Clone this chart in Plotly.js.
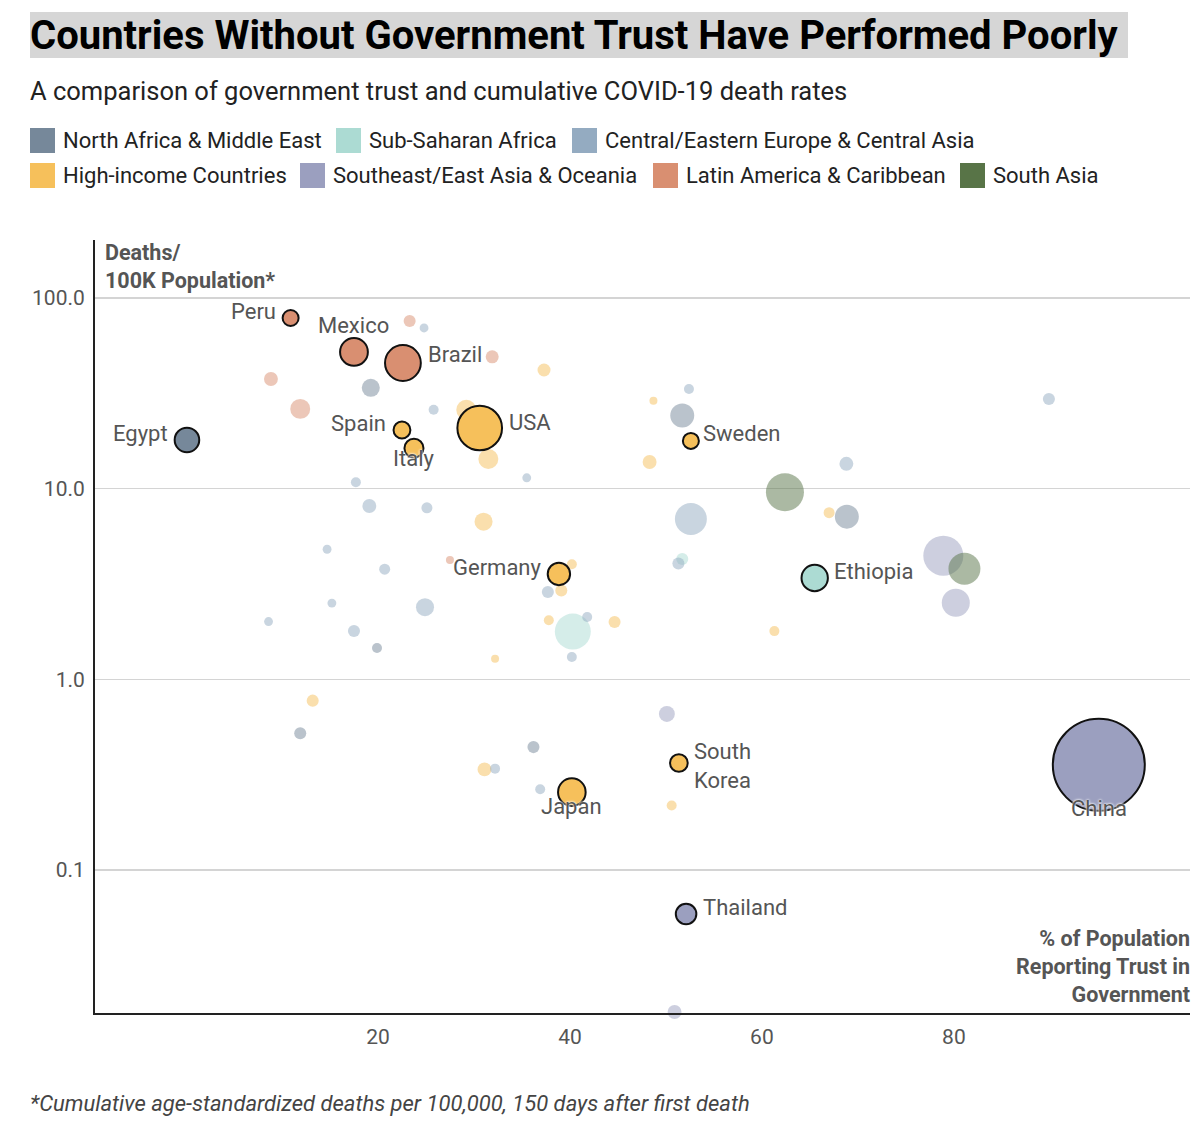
<!DOCTYPE html>
<html>
<head>
<meta charset="utf-8">
<script src="https://cdn.plot.ly/plotly-3.0.1.min.js"></script>
<style>
  html, body { margin: 0; padding: 0; background: #fff; }
  #chart { width: 1200px; height: 1123px; }
</style>
</head>
<body>
<div id="chart"></div>
<script>
// ---------------- DATA ----------------
const regionKeys = ['NAME', 'SSA', 'CEE', 'HIC', 'SEA', 'LAC', 'SA'];
const regionNames = [
  'North Africa & Middle East', 'Sub-Saharan Africa', 'Central/Eastern Europe & Central Asia',
  'High-income Countries', 'Southeast/East Asia & Oceania', 'Latin America & Caribbean', 'South Asia'
];

// Highlighted (labelled) countries
const labCountry = ['Peru', 'Mexico', 'Brazil', 'Egypt', 'Spain', 'Italy', 'USA', 'Sweden',
  'Germany', 'Ethiopia', 'South Korea', 'Japan', 'Thailand', 'China'];
const labTrust = [10.9, 17.5, 22.6, 0.1, 22.5, 23.75, 30.6, 52.6, 38.85, 65.5, 51.35, 40.2, 52.1, 95.1];
const labDeaths = [78.5, 52.1, 45.6, 18.0, 20.3, 16.3, 20.8, 17.8, 3.57, 3.40, 0.364, 0.256, 0.0588, 0.356];
const labPop = [33, 128, 212, 100, 47, 60, 330, 10, 83, 115, 52, 126, 70, 1400];
const labRegion = ['LAC', 'LAC', 'LAC', 'NAME', 'HIC', 'HIC', 'HIC', 'HIC', 'HIC', 'SSA', 'HIC', 'HIC', 'SEA', 'SEA'];

// Other (unlabelled) countries
const othTrust = [23.3, 24.8, 31.9, 37.3, 8.85, 19.25, 11.9, 25.8, 29.2, 31.5, 17.7, 35.5,
  52.4, 48.7, 51.7, 48.3, 68.8, 62.4, 67.0, 68.85, 52.6, 51.7, 51.3, 78.9, 81.1, 80.2,
  40.2, 37.7, 39.1, 37.8, 40.3, 41.8, 44.65, 40.2, 61.3, 50.1, 36.2, 36.9, 50.6, 50.9,
  19.1, 25.1, 31.0, 14.7, 27.5, 20.7, 15.2, 24.9, 8.6, 17.5, 19.9, 32.2, 13.2, 11.9, 31.1, 32.2, 89.9];
const othDeaths = [75.7, 69.6, 49.1, 41.9, 37.6, 33.8, 26.2, 25.9, 25.9, 14.3, 10.8, 11.4,
  33.3, 28.9, 24.2, 13.8, 13.5, 9.57, 7.48, 7.13, 6.93, 4.28, 4.05, 4.45, 3.80, 2.52,
  4.01, 2.87, 2.92, 2.04, 1.78, 2.12, 2.00, 1.31, 1.79, 0.658, 0.441, 0.265, 0.218, 0.018,
  8.11, 7.93, 6.71, 4.81, 4.23, 3.78, 2.51, 2.39, 2.01, 1.79, 1.46, 1.28, 0.773, 0.521, 0.337, 0.340, 29.5];
const othPop = [24, 13, 28, 28, 32, 54, 66, 16.5, 66, 66, 16.5, 13,
  16.5, 10.6, 95, 32, 32, 239, 20, 95, 169, 24, 24, 265, 169, 130,
  16.5, 24, 24, 16.5, 214, 16.5, 24, 16.5, 16.5, 42, 24, 16.5, 16.5, 32,
  32, 20, 54, 13, 10.6, 20, 13, 54, 13, 24, 16.5, 10.6, 24, 24, 32, 16.5, 24];
const othRegion = ['LAC', 'CEE', 'LAC', 'HIC', 'LAC', 'NAME', 'LAC', 'CEE', 'HIC', 'HIC', 'CEE', 'CEE',
  'CEE', 'HIC', 'NAME', 'HIC', 'CEE', 'SA', 'HIC', 'NAME', 'CEE', 'SSA', 'CEE', 'SEA', 'SA', 'SEA',
  'HIC', 'CEE', 'HIC', 'HIC', 'SSA', 'CEE', 'HIC', 'CEE', 'HIC', 'SEA', 'NAME', 'CEE', 'HIC', 'SEA',
  'CEE', 'CEE', 'HIC', 'CEE', 'LAC', 'CEE', 'CEE', 'CEE', 'CEE', 'CEE', 'NAME', 'HIC', 'HIC', 'NAME', 'HIC', 'CEE', 'CEE'];

const yTickVals = [0.1, 1, 10, 100];
const yTickText = ['0.1', '1.0', '10.0', '100.0'];
const xTickVals = [20, 40, 60, 80];
const xTickText = ['20', '40', '60', '80'];

// ---------------- STYLE ----------------
const regionColor = {
  NAME: '#76889a', SSA: '#acdbd3', CEE: '#94abc1', HIC: '#f6c05b',
  SEA: '#9b9fbf', LAC: '#d98f71', SA: '#587447'
};
const FONT = 'Roboto, "Noto Sans", Arial, sans-serif';
const L = 95, R = 10, T = 240, B = 110, W = 1200, H = 1123;
const PW = W - L - R, PH = H - T - B;
const xp = px => (px - L) / PW;
const yp = py => (H - B - py) / PH;

// label placement: [xanchor, xshift, yshift]
const labelPlace = {
  'Peru': ['right', -13, 7], 'Mexico': ['center', 0, 26], 'Brazil': ['left', 23, 8],
  'Egypt': ['right', -17, 6], 'Spain': ['right', -14, 7], 'Italy': ['center', 0, -10],
  'USA': ['left', 27, 5], 'Sweden': ['left', 10, 7], 'Germany': ['right', -15, 6],
  'Ethiopia': ['left', 17, 6], 'South Korea': ['left', 13, -3], 'Japan': ['center', 0, -14],
  'Thailand': ['left', 15, 6], 'China': ['center', 0, -44]
};

const SIZEREF = 0.331;

const traces = [
  {
    type: 'scatter', mode: 'markers', x: othTrust, y: othDeaths,
    cliponaxis: false, hoverinfo: 'skip', showlegend: false,
    marker: {
      size: othPop, sizemode: 'area', sizeref: SIZEREF, sizemin: 3,
      color: othRegion.map(r => regionColor[r]), opacity: 0.5,
      line: { width: 0 }
    }
  },
  {
    type: 'scatter', mode: 'markers', x: labTrust, y: labDeaths,
    text: labCountry, hoverinfo: 'text', showlegend: false, cliponaxis: false,
    marker: {
      size: labPop, sizemode: 'area', sizeref: SIZEREF, sizemin: 8,
      color: labRegion.map(r => regionColor[r]), opacity: 1,
      line: { width: 2, color: '#111' }
    }
  }
];

const annotations = [];
const shapes = [];

// Title background + texts
shapes.push({ type: 'rect', xref: 'paper', yref: 'paper', x0: xp(30), x1: xp(1128), y0: yp(58), y1: yp(12),
  fillcolor: '#d6d6d6', line: { width: 0 }, layer: 'below' });
annotations.push({ xref: 'paper', yref: 'paper', x: xp(28), y: yp(35), xanchor: 'left', yanchor: 'middle',
  text: 'Countries Without Government Trust Have Performed Poorly', showarrow: false,
  font: { family: FONT, size: 40, color: '#000', weight: 700 } });
annotations.push({ xref: 'paper', yref: 'paper', x: xp(28), y: yp(91), xanchor: 'left', yanchor: 'middle',
  text: 'A comparison of government trust and cumulative COVID-19 death rates', showarrow: false,
  font: { family: FONT, size: 25.5, color: '#222' } });

// Manual legend
const legendPos = [[30, 140.5], [336, 140.5], [572, 140.5], [30, 175.5], [300, 175.5], [653, 175.5], [960, 175.5]];
regionKeys.forEach((k, i) => {
  const [sx, sy] = legendPos[i];
  shapes.push({ type: 'rect', xref: 'paper', yref: 'paper', x0: xp(sx), x1: xp(sx + 25),
    y0: yp(sy + 12.5), y1: yp(sy - 12.5), fillcolor: regionColor[k], line: { width: 0 } });
  annotations.push({ xref: 'paper', yref: 'paper', x: xp(sx + 31), y: yp(sy), xanchor: 'left', yanchor: 'middle',
    text: regionNames[i], showarrow: false, font: { family: FONT, size: 22, color: '#222' } });
});

// Axis titles
annotations.push({ xref: 'paper', yref: 'paper', x: xp(103), y: yp(266), xanchor: 'left', yanchor: 'middle',
  align: 'left', text: 'Deaths/<br>100K Population*', showarrow: false,
  font: { family: FONT, size: 21.5, color: '#555', weight: 700 } });
annotations.push({ xref: 'paper', yref: 'paper', x: xp(1192), y: yp(966), xanchor: 'right', yanchor: 'middle',
  align: 'right', text: '% of Population<br>Reporting Trust in<br>Government', showarrow: false,
  font: { family: FONT, size: 21.5, color: '#555', weight: 700 } });

// Footnote
annotations.push({ xref: 'paper', yref: 'paper', x: xp(28), y: yp(1103), xanchor: 'left', yanchor: 'middle',
  text: '*Cumulative age-standardized deaths per 100,000, 150 days after first death', showarrow: false,
  font: { family: FONT, size: 22, color: '#444', style: 'italic' } });

// Country labels
labCountry.forEach((c, i) => {
  const [xa, xs, ys] = labelPlace[c];
  annotations.push({ x: labTrust[i], y: Math.log10(labDeaths[i]), xref: 'x', yref: 'y',
    xanchor: xa, yanchor: 'middle', xshift: xs, yshift: ys, align: 'left',
    text: c === 'South Korea' ? 'South<br>Korea' : c, showarrow: false,
    font: { family: FONT, size: 22, color: '#555', shadow: '0px 0px 3px #fff, 0px 0px 2px #fff' } });
});

const layout = {
  width: W, height: H,
  margin: { l: L, r: R, t: T, b: B, pad: 0 },
  paper_bgcolor: '#fff', plot_bgcolor: '#fff',
  showlegend: false,
  font: { family: FONT, color: '#555' },
  xaxis: {
    range: [-9.48, 104.6], showgrid: false, zeroline: false,
    showline: true, linecolor: '#222', linewidth: 2,
    tickvals: xTickVals, ticktext: xTickText, ticks: '', ticklabelstandoff: 4,
    tickfont: { family: FONT, size: 21, color: '#555' }
  },
  yaxis: {
    type: 'log', range: [-1.75, 2.304], showgrid: true, gridcolor: '#d4d4d4', gridwidth: 1.5,
    zeroline: false, showline: true, linecolor: '#222', linewidth: 2,
    tickvals: yTickVals, ticktext: yTickText, ticks: '', ticklabelstandoff: 4,
    tickfont: { family: FONT, size: 21, color: '#555' }
  },
  shapes: shapes,
  annotations: annotations
};

Plotly.newPlot('chart', traces, layout, { displayModeBar: false, staticPlot: true });
</script>
</body>
</html>
